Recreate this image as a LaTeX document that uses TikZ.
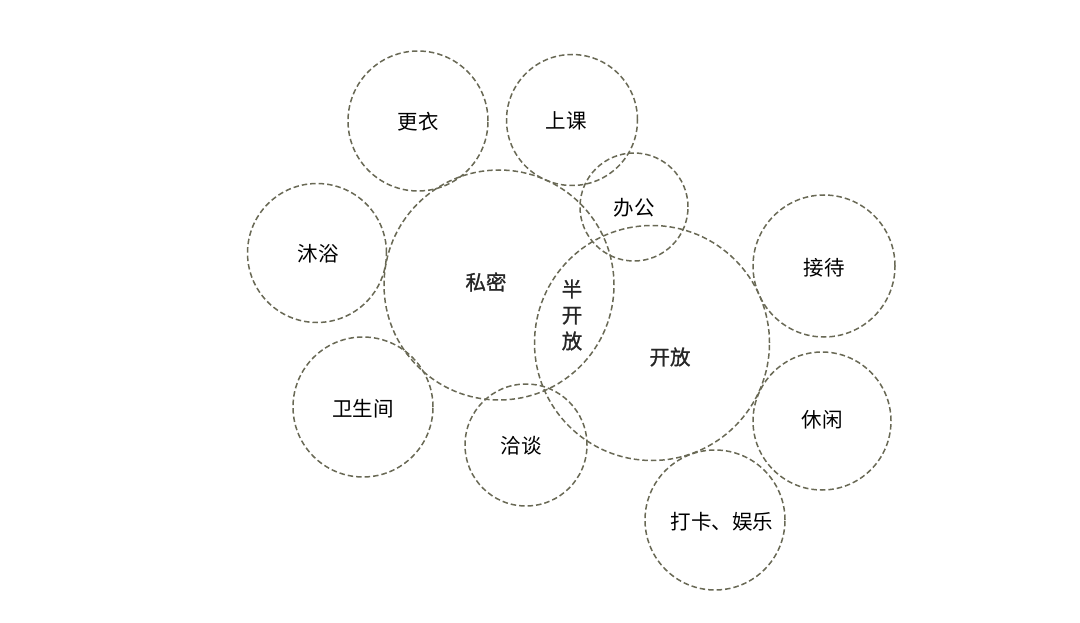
\documentclass[tikz,border=0pt]{standalone}
\usepackage{fontspec}
\setmainfont{Noto Sans CJK SC}
\newfontfamily\heavycjk[FakeBold=1.2]{Noto Sans CJK SC}
\definecolor{ringcol}{RGB}{105,105,85}
\begin{document}
\begin{tikzpicture}[x=1pt,y=-1pt,
  zone/.style={circle,draw=ringcol,line width=1.5pt,dash pattern=on 5.5pt off 3pt,inner sep=0pt,minimum size=#1},
  lbl/.style={font=\fontsize{20.5}{20.5}\selectfont,text=black,inner sep=0pt},
  mainlbl/.style={font=\heavycjk\fontsize{20.5}{20.5}\selectfont,text=black!85,inner sep=0pt}]
\useasboundingbox[fill=white] (0,0) rectangle (1080,623);
\node[zone=140pt] (c1) at (418,121) {};
\node[zone=131pt] (c2) at (572,120) {};
\node[zone=108pt] (c3) at (634,207) {};
\node[zone=139pt] (c4) at (317,253) {};
\node[zone=230pt] (c5) at (499,285) {};
\node[zone=235pt] (c6) at (652,343) {};
\node[zone=142pt] (c7) at (824,266) {};
\node[zone=140pt] (c8) at (363,407) {};
\node[zone=122pt] (c9) at (526,445) {};
\node[zone=138pt] (c10) at (822,421) {};
\node[zone=140pt] (c11) at (715,520) {};
\node[lbl] (t1) at (418,122) {更衣};
\node[lbl] (t2) at (566,121) {上课};
\node[lbl] (t3) at (634,208) {办公};
\node[lbl] (t4) at (318,254) {沐浴};
\node[mainlbl] (t5) at (486,282) {私密};
\node[mainlbl,align=center,font=\heavycjk\fontsize{20.5}{26}\selectfont] (t6) at (572,315) {半\\开\\放};
\node[mainlbl] (t7) at (670,357) {开放};
\node[lbl] (t8) at (824,268) {接待};
\node[lbl] (t9) at (363,409) {卫生间};
\node[lbl] (t10) at (521,446) {洽谈};
\node[lbl] (t11) at (822,420) {休闲};
\node[lbl] (t12) at (722,522) {打卡、娱乐};
\end{tikzpicture}
\end{document}
